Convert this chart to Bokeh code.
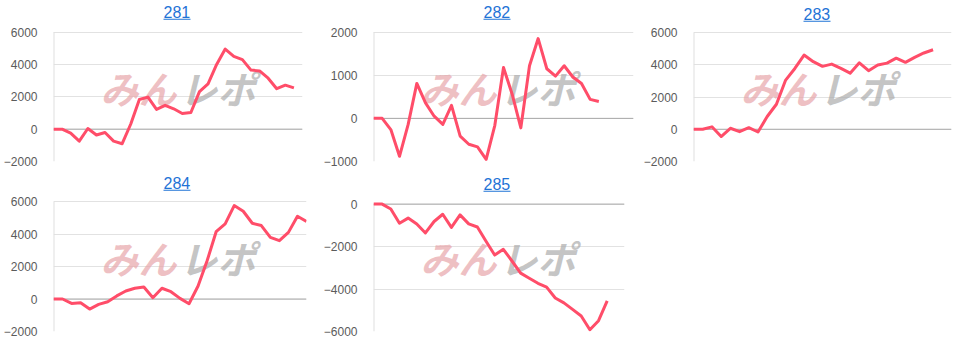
from bokeh.plotting import figure
from bokeh.models import Label, BoxAnnotation, FixedTicker, Span, Range1d, ColumnDataSource
from bokeh.layouts import row, column
from bokeh.embed import file_html
from bokeh.resources import INLINE

# ---- data ----
titles = ["281", "282", "283", "284", "285"]

s281 = [0, 0, -250, -740, 40, -360, -210, -740, -900, 320, 1830, 1980, 1220, 1470,
        1260, 970, 1030, 2320, 2800, 4000, 4950, 4500, 4300, 3650, 3600, 3150, 2500,
        2720, 2550]
s282 = [0, 0, -260, -880, -140, 810, 360, 50, -140, 300, -410, -600, -660, -950,
        -160, 1180, 560, -220, 1220, 1850, 1150, 980, 1220, 960, 810, 440, 390]
s283 = [0, 0, 150, -450, 60, -150, 100, -170, 790, 1550, 3050, 3770, 4600, 4190,
        3900, 4040, 3770, 3480, 4120, 3630, 3980, 4100, 4410, 4150, 4460, 4730, 4930]
s284 = [0, 0, -270, -230, -620, -330, -170, 190, 490, 660, 740, 80, 660, 450, 40,
        -290, 800, 2350, 4140, 4620, 5750, 5400, 4660, 4520, 3790, 3590, 4100, 5090,
        4780]
s285 = [0, 0, -230, -900, -660, -940, -1360, -820, -480, -1100, -510, -930, -1080,
        -1750, -2400, -2130, -2680, -3250, -3490, -3730, -3910, -4420, -4650, -4960,
        -5270, -5920, -5490, -4560]

ticks_281 = [-2000, 0, 2000, 4000, 6000]
ticks_282 = [-1000, 0, 1000, 2000]
ticks_283 = [-2000, 0, 2000, 4000, 6000]
ticks_284 = [-2000, 0, 2000, 4000, 6000]
ticks_285 = [-6000, -4000, -2000, 0]

x_slots = [29, 30, 28, 28, 29]

# ---- styles ----
LINE = "#ff4d69"
BLUE = "#1f73d6"
FONT = "Liberation Sans"
BASELINE = 0


def make_chart(title, values, ticks, xmax, w, h, bl, br, bt, bb):
    # the frame reaches the top of the figure so the title can live inside it;
    # the y range is stretched so the top tick sits bt pixels below the top.
    lo, hi = ticks[0], ticks[-1]
    plot_px = h - bt - bb
    top = hi + (hi - lo) * bt / plot_px
    p = figure(width=w, height=h, output_backend="svg", toolbar_location=None,
               x_range=Range1d(0, xmax), y_range=Range1d(lo, top),
               x_axis_location=None, min_border_left=bl, min_border_right=br,
               min_border_top=0, min_border_bottom=bb, tools="")
    p.outline_line_color = None
    p.background_fill_color = "white"
    p.border_fill_color = "white"
    p.xgrid.visible = False
    p.ygrid.ticker = FixedTicker(ticks=ticks)
    p.ygrid.grid_line_color = "#e2e2e2"
    p.ygrid.grid_line_width = 1
    ax = p.yaxis[0]
    ax.ticker = FixedTicker(ticks=ticks)
    ax.major_tick_line_color = None
    ax.minor_tick_line_color = None
    ax.axis_line_color = None
    ax.major_label_text_font = FONT
    ax.major_label_text_font_size = "12px"
    ax.major_label_text_color = "#5b5b5b"
    ax.major_label_standoff = 10

    # left guide line, only over the tick span
    p.segment(x0=[0], y0=[lo], x1=[0], y1=[hi], line_color="#e0e0e0", line_width=2)
    p.add_layout(Span(location=BASELINE, dimension="width", line_color="#a9a9a9",
                      line_width=1, level="underlay"))

    fh = h - bb
    # watermark (logo rendered as text)
    p.add_layout(Label(x=47, y=74, x_units="screen", y_units="screen", text="みん",
                       text_font="Noto Sans CJK JP", text_font_size="38px",
                       text_font_style="bold italic", text_color="#e7a4a9",
                       text_alpha=0.7, text_baseline="middle", level="underlay"))
    p.add_layout(Label(x=126, y=74, x_units="screen", y_units="screen", text="レポ",
                       text_font="Noto Sans CJK JP", text_font_size="38px",
                       text_font_style="bold italic", text_color="#ababab",
                       text_alpha=0.7, text_baseline="middle", level="underlay"))

    src = ColumnDataSource(dict(x=list(range(len(values))), y=values))
    p.line("x", "y", source=src, line_color=LINE, line_width=3, line_join="round")

    # title as link-like text, with its underline
    ty = fh - bt + 19
    p.add_layout(Label(x=110, y=ty, x_units="screen", y_units="screen",
                       text=title, text_font=FONT, text_font_size="16px",
                       text_color=BLUE, text_baseline="middle", text_align="left"))
    uy = fh - bt + 11.3
    p.add_layout(BoxAnnotation(left=110, right=137, bottom=uy - 0.5, top=uy + 0.5,
                               left_units="screen", right_units="screen",
                               bottom_units="screen", top_units="screen",
                               fill_color=BLUE, fill_alpha=1, line_color=None))
    return p


p1 = make_chart(titles[0], s281, ticks_281, x_slots[0], 320, 170, 43, 18, 32, 7)
p2 = make_chart(titles[1], s282, ticks_282, x_slots[1], 320, 170, 53, 7, 32, 7)
p3 = make_chart(titles[2], s283, ticks_283, x_slots[2], 325, 170, 53, 14, 32, 9)
p4 = make_chart(titles[3], s284, ticks_284, x_slots[3], 320, 173, 49, 14, 31, 12)
p5 = make_chart(titles[4], s285, ticks_285, x_slots[4], 320, 173, 46, 16, 34, 10)

layout = column(row(p1, p2, p3, spacing=0), row(p4, p5, spacing=0), spacing=0)

with open("out.html", "w") as f:
    f.write(file_html(layout, INLINE))
